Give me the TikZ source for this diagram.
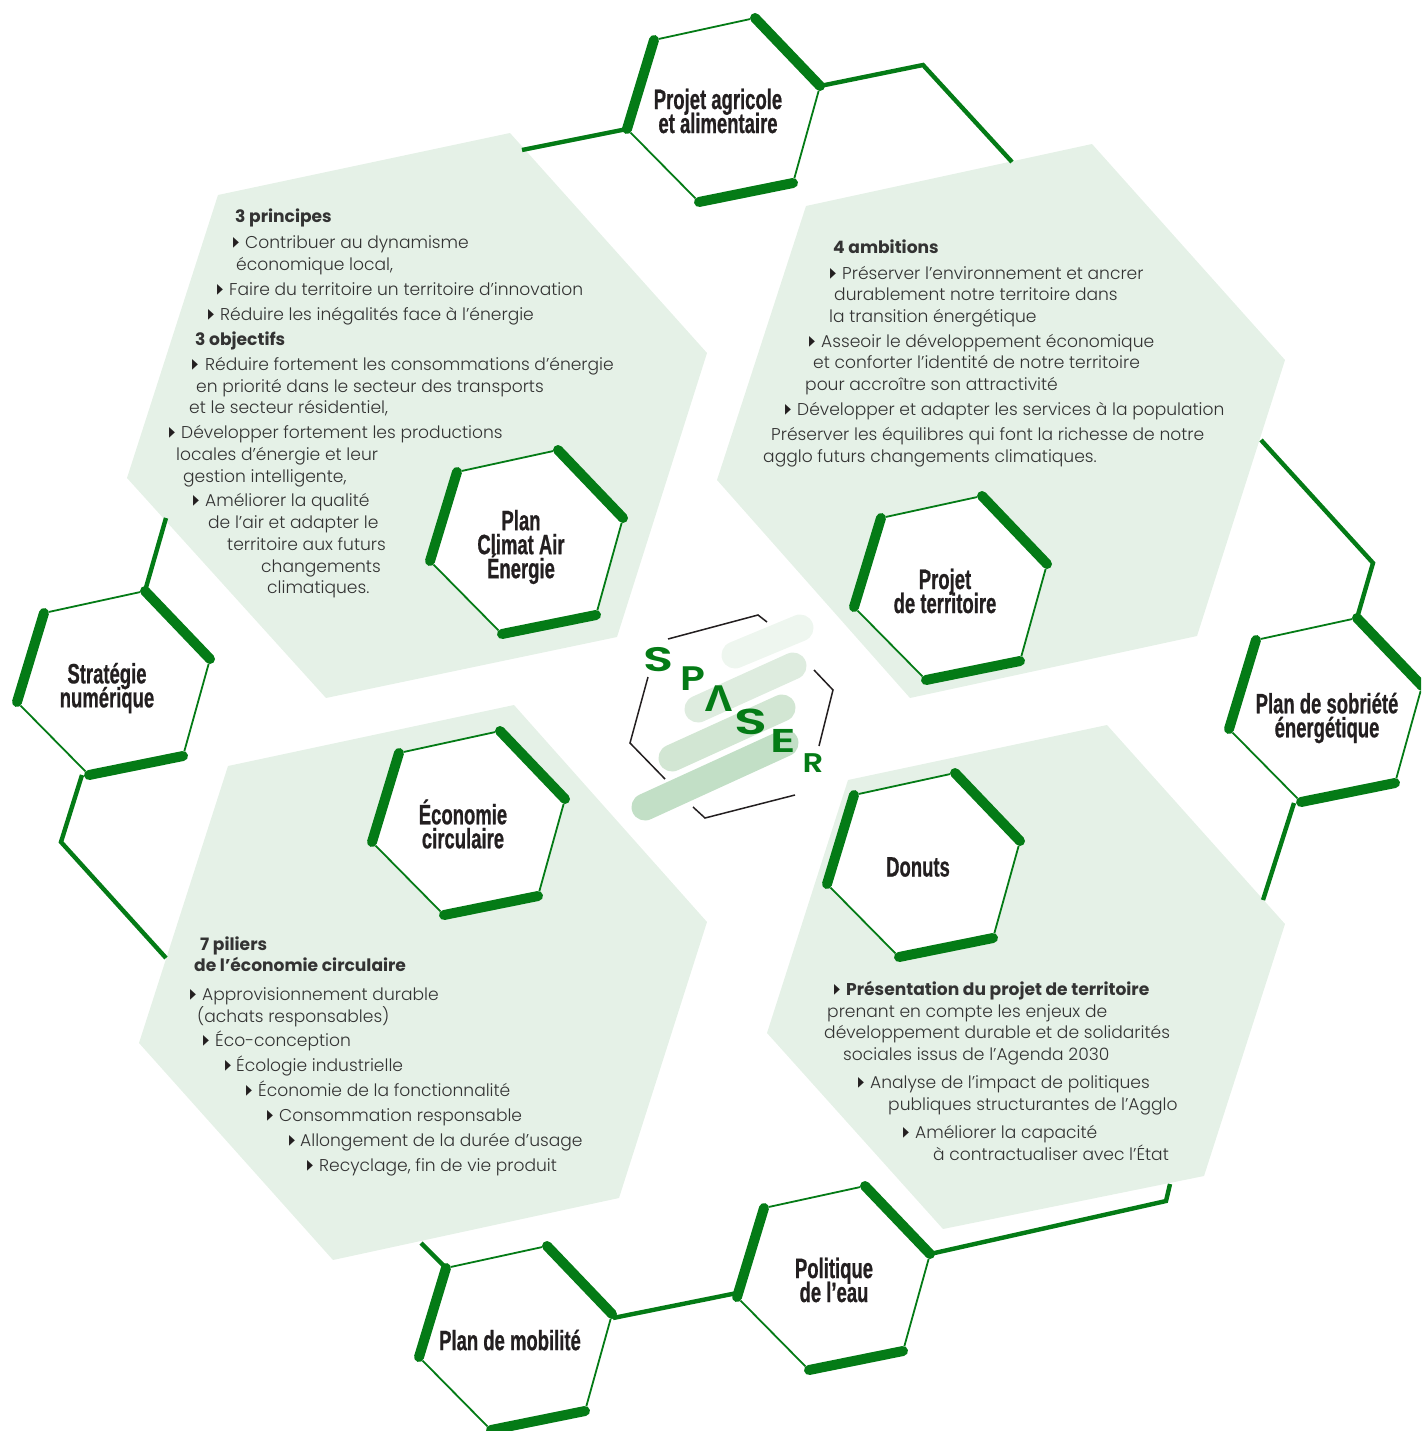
\documentclass[tikz,border=0pt]{standalone}
\usepackage{fontspec}
\setmainfont{Poppins}[UprightFont=* Light,BoldFont=* Bold]
\newfontfamily\hexfont{Liberation Sans Bold}[FakeStretch=0.66,FakeBold=0.6]
\newfontfamily\bulfont{DejaVu Sans}
\newfontfamily\logofont{Poppins}[UprightFont=* SemiBold]
\newfontfamily\logolam{Open Sans}
\definecolor{panel}{HTML}{E5F1E7}
\definecolor{leaf}{HTML}{047B16}
\definecolor{ink}{HTML}{333333}
\definecolor{dark}{HTML}{231F20}
\definecolor{pillA}{HTML}{EEF6EF}
\definecolor{pillB}{HTML}{DEECDF}
\definecolor{pillC}{HTML}{D2E6D3}
\definecolor{pillD}{HTML}{C2DFC6}
\newcounter{tl}
\newcommand{\hexlabelfont}{\hexfont\fontsize{28}{24}\selectfont\setlength{\lineskiplimit}{-30pt}}
\tikzset{
  panelshape/.style={fill=panel,draw=none},
  thinside/.style={draw=leaf,line width=1.8pt,shorten >=5pt,shorten <=5pt},
  thickside/.style={draw=leaf,line width=10pt,line cap=round},
  link/.style={draw=leaf,line width=4.4pt,line join=miter},
  bodytext/.style={inner sep=0pt,anchor=base west,text=ink,font=\fontsize{17.1}{20}\selectfont},
  bulmark/.style={inner sep=0pt,anchor=base west,text=dark,font=\bulfont\fontsize{14}{14}\selectfont},
  hexlabel/.style={inner sep=0pt,align=center,text=dark,font=\hexlabelfont},
  logoline/.style={draw=dark,line width=1.5pt},
  pill/.style={line width=27pt,line cap=round},
  logoletter/.style={inner sep=0pt,text=leaf,font=\logofont\fontsize{#1}{#1}\selectfont},
}
\newcommand{\hexa}[3]{%
  \begin{scope}[shift={(#2,#3)}]
    \coordinate (#1-a) at (0,0);
    \coordinate (#1-b) at (27,-89);
    \coordinate (#1-c) at (128,-111);
    \coordinate (#1-d) at (193,-43);
    \coordinate (#1-e) at (166,54);
    \coordinate (#1-f) at (72,73);
  \end{scope}
  \fill[white] (#1-a)--(#1-b)--(#1-c)--(#1-d)--(#1-e)--(#1-f)--cycle;
  \draw[thinside] (#1-b)--(#1-c);
  \draw[thinside] (#1-d)--(#1-e);
  \draw[thinside] (#1-f)--(#1-a);
  \draw[thickside] (#1-a)--(#1-b);
  \draw[thickside] (#1-c)--(#1-d);
  \draw[thickside] (#1-e)--(#1-f);
}
\newcommand{\tl}[3]{\stepcounter{tl}\node[bodytext] (line\thetl) at (#1,#2+1) {#3};}
\newcommand{\bl}[4]{\stepcounter{tl}\node[bulmark] (bul\thetl) at (#1,#3-0.5) {\scalebox{0.55}[1]{▶}};\node[bodytext] (line\thetl) at (#2,#3+1) {#4};}
\begin{document}
\begin{tikzpicture}[x=1pt,y=-1pt]
\useasboundingbox (0,0) rectangle (1421,1431);
\clip (0,0) rectangle (1421,1431);
% panels
\path[panelshape] (218,195)--(510,133)--(707,353)--(617,637)--(326,698)--(127,478)--cycle;
\path[panelshape] (806,206)--(1092,144)--(1285,360)--(1197,636)--(910,698)--(717,480)--cycle;
\path[panelshape] (228,766)--(514,705)--(707,922)--(619,1198)--(333,1260)--(139,1043)--cycle;
\path[panelshape] (848,780)--(1107,725)--(1285,924)--(1204,1176)--(943,1229)--(767,1033)--cycle;
% connector free ends
\coordinate (freeA) at (522,150);
\coordinate (bendB) at (923,65);
\coordinate (freeB) at (1012,162);
\coordinate (bendC) at (1373,563);
\coordinate (freeC) at (1261,440);
\coordinate (startD) at (1294,803);
\coordinate (freeD) at (1263,900);
\coordinate (freeE) at (166,518);
\coordinate (startF) at (82,775);
\coordinate (bendF) at (61,842);
\coordinate (freeF) at (166,958);
\coordinate (freeG) at (421,1243);
\coordinate (mobEnd) at (613,1318);
\coordinate (eauEnd) at (737,1293);
\coordinate (bendH) at (1166,1201);
\coordinate (freeH) at (1170,1184);
% hexagons
\hexa{agri}{627}{129}
\hexa{climat}{430}{561}
\hexa{numerique}{17}{702}
\hexa{sobriete}{1229}{729}
\hexa{territoire}{854}{607}
\hexa{economie}{372}{842}
\hexa{donuts}{827}{884}
\hexa{mobilite}{419}{1357}
\hexa{eau}{737}{1297}
% connectors
\draw[link] (agri-a)--(freeA);
\draw[link] (agri-d)--(bendB)--(freeB);
\draw[link] (sobriete-c)--(bendC)--(freeC);
\draw[link] (startD)--(freeD);
\draw[link] (numerique-c)--(freeE);
\draw[link] (startF)--(bendF)--(freeF);
\draw[link] (mobilite-b)--(freeG);
\draw[link] (mobEnd)--(eauEnd);
\draw[link] (eau-d)--(bendH)--(freeH);
% hexagon labels
\node[hexlabel] (lagri) at (718,111) {Projet agricole\\et alimentaire};
\node[hexlabel] (lclimat) at (521,547) {Plan\\Climat Air\\Énergie};
\node[hexlabel] (lnum) at (107,688) {Stratégie\\numérique};
\node[hexlabel] (lsob) at (1327,718) {Plan de sobriété\\énergétique};
\node[hexlabel] (lter) at (945,591) {Projet\\de territoire};
\node[hexlabel] (leco) at (463,824) {Économie\\circulaire};
\node[hexlabel] (ldon) at (918,867) {Donuts};
\node[hexlabel] (lmob) at (510,1340) {Plan de mobilité};
\node[hexlabel] (leau) at (834,1280) {Politique\\de l’eau};
% top-left text
\tl{235}{222}{\textbf{3 principes}}
\bl{233}{245}{247}{Contribuer au dynamisme}
\tl{236}{269}{économique local,}
\bl{217}{229}{294}{Faire du territoire un territoire d’innovation}
\bl{208}{220}{319}{Réduire les inégalités face à l’énergie}
\tl{195}{344}{\textbf{3 objectifs}}
\bl{192}{205}{369}{Réduire fortement les consommations d’énergie}
\tl{196}{391}{en priorité dans le secteur des transports}
\tl{189}{412}{et le secteur résidentiel,}
\bl{169}{181}{437}{Développer fortement les productions}
\tl{176}{459}{locales d’énergie et leur}
\tl{183}{481}{gestion intelligente,}
\bl{193}{205}{505}{Améliorer la qualité}
\tl{208}{527}{de l’air et adapter le}
\tl{227}{549}{territoire aux futurs}
\tl{261}{571}{changements}
\tl{267}{592}{climatiques.}
% top-right text
\tl{833}{253}{\textbf{4 ambitions}}
\bl{830}{842}{278}{Préserver l’environnement et ancrer}
\tl{834}{299}{durablement notre territoire dans}
\tl{829}{321}{la transition énergétique}
\bl{809}{821}{346}{Asseoir le développement économique}
\tl{813}{367}{et conforter l’identité de notre territoire}
\tl{805}{389}{pour accroître son attractivité}
\bl{785}{797}{414}{Développer et adapter les services à la population}
\tl{771}{439}{Préserver les équilibres qui font la richesse de notre}
\tl{763}{461}{agglo futurs changements climatiques.}
% bottom-left text
\tl{200}{949}{\textbf{7 piliers}}
\tl{194}{970}{\textbf{de l’économie circulaire}}
\bl{190}{202}{999}{Approvisionnement durable}
\tl{197}{1021}{(achats responsables)}
\bl{203}{215}{1045}{Éco-conception}
\bl{225}{236}{1070}{Écologie industrielle}
\bl{246}{258}{1095}{Économie de la fonctionnalité}
\bl{267}{279}{1120}{Consommation responsable}
\bl{289}{300}{1145}{Allongement de la durée d’usage}
\bl{307}{319}{1170}{Recyclage, fin de vie produit}
% bottom-right text
\bl{834}{846}{994}{\textbf{Présentation du projet de territoire}}
\tl{827}{1016}{prenant en compte les enjeux de}
\tl{824}{1037}{développement durable et de solidarités}
\tl{843}{1059}{sociales issus de l’Agenda 2030}
\bl{858}{870}{1087}{Analyse de l’impact de politiques}
\tl{888}{1109}{publiques structurantes de l’Agglo}
\bl{903}{915}{1137}{Améliorer la capacité}
\tl{933}{1159}{à contractualiser avec l’État}
% logo
\draw[pill,color=pillA] (735,655)--(800,628);
\draw[pill,color=pillB] (698,709)--(793,666);
\draw[pill,color=pillC] (672,758)--(782,708);
\draw[pill,color=pillD] (645,807)--(785,743);
\draw[logoline] (668,639)--(758,615)--(767,622);
\draw[logoline] (814,670)--(833,690)--(819,746);
\draw[logoline] (795,795)--(705,818)--(693,807);
\draw[logoline] (665,779)--(630,743)--(648,677);
\node[logoletter=34] (s1) at (659,660) {\scalebox{1.45}[1]{S}};
\node[logoletter=34] (p1) at (693,679) {\scalebox{1.2}[1]{P}};
\node[inner sep=0pt,text=leaf,font=\logolam\bfseries\fontsize{36}{36}\selectfont] (a1) at (719,699) {\scalebox{1.15}[1]{Λ}};
\node[logoletter=36] (s2) at (751,722) {\scalebox{1.5}[1]{S}};
\node[logoletter=33] (e1) at (783,741) {\scalebox{1.45}[1]{E}};
\node[logoletter=27] (r1) at (813,763) {\scalebox{1.2}[1]{R}};
\end{tikzpicture}
\end{document}
